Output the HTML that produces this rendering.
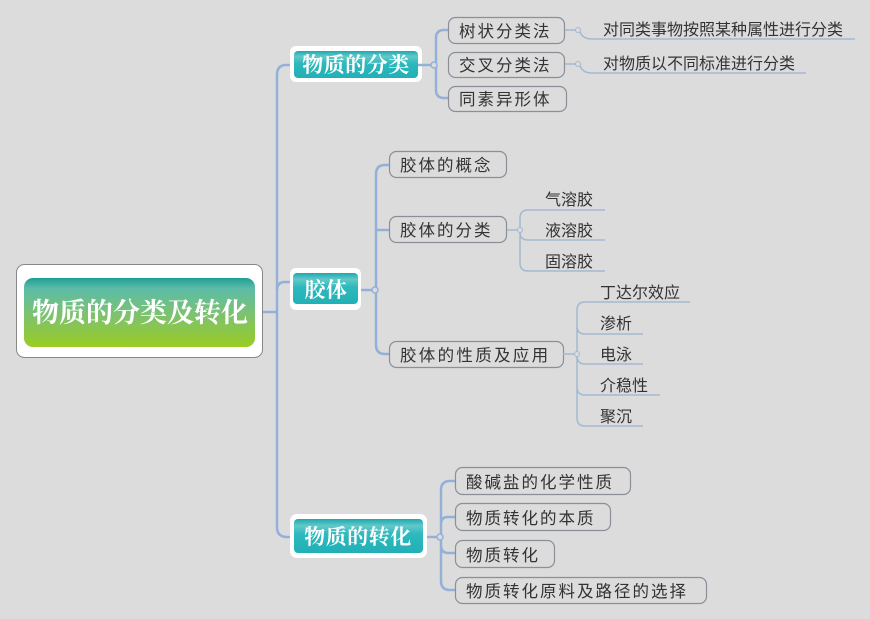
<!DOCTYPE html>
<html><head><meta charset="utf-8"><style>
html,body{margin:0;padding:0;background:#dcdcdc;}
svg{display:block;}
text{font-family:"Liberation Sans","Noto Sans CJK SC",sans-serif;fill:#333;}
.b{fill:#dcdcdc;stroke:#8a8f98;stroke-width:1.2;}
.t16{font-size:16.5px;letter-spacing:2px;}
.t15{font-size:16px;}
.ln{fill:none;stroke:#93b1d8;stroke-width:2.5;}
.ul{fill:none;stroke:#a4b8d2;stroke-width:1.5;}
.mt{font-family:"Liberation Serif","Noto Serif CJK SC",serif;font-weight:bold;fill:#fff;font-size:21px;letter-spacing:0.5px;}
</style></head><body>
<svg width="870" height="619" viewBox="0 0 870 619">
<defs>
<linearGradient id="rg" x1="0" y1="0" x2="0" y2="1">
<stop offset="0" stop-color="#1f9e94"/><stop offset="0.15" stop-color="#5cbca8"/><stop offset="0.55" stop-color="#7ec26c"/><stop offset="1" stop-color="#9acc22"/>
</linearGradient>
<linearGradient id="tg" x1="0" y1="0" x2="0" y2="1">
<stop offset="0" stop-color="#1aa9b0"/><stop offset="0.2" stop-color="#63c8c8"/><stop offset="0.45" stop-color="#2db9bd"/><stop offset="1" stop-color="#22b0b6"/>
</linearGradient>
</defs>
<path class="ln" d="M290 65 H286 Q277 65 277 75 V527 Q277 537 287 537 H292"/>
<path class="ln" d="M262 312 H277"/>
<path class="ln" d="M277 290 Q277 282 285 282 H292"/>
<rect x="16.5" y="264.5" width="246" height="93" rx="8" fill="#fff" stroke="#888"/>
<rect x="24" y="278" width="231" height="69" rx="9" fill="url(#rg)"/>
<text x="140" y="322" text-anchor="middle" class="mt" style="font-size:27px;letter-spacing:0">物质的分类及转化</text>
<rect x="290" y="46" width="132" height="36" rx="6" fill="#fff"/>
<rect x="294" y="51" width="124" height="27" rx="4" fill="url(#tg)"/>
<text x="356" y="72" text-anchor="middle" class="mt">物质的分类</text>
<rect x="290" y="268" width="71" height="42" rx="6" fill="#fff"/>
<rect x="293" y="273" width="65" height="31" rx="4" fill="url(#tg)"/>
<text x="326" y="297" text-anchor="middle" class="mt">胶体</text>
<rect x="290" y="514" width="137" height="44" rx="7" fill="#fff"/>
<rect x="294" y="519" width="129" height="34" rx="4" fill="url(#tg)"/>
<text x="358" y="544" text-anchor="middle" class="mt">物质的转化</text>
<path class="ln" d="M418 65 H436 M448 30 H444 Q436 30 436 38 V90 Q436 98 444 98 H448"/>
<circle cx="434" cy="65" r="3" fill="#dcdcdc" stroke="#93b1d8" stroke-width="1.5"/>
<rect class="b" x="448.5" y="17.5" width="116" height="26" rx="7"/><text class="t16" x="459" y="37">树状分类法</text>
<rect class="b" x="448.5" y="52.5" width="116" height="25" rx="7"/><text class="t16" x="459" y="71">交叉分类法</text>
<rect class="b" x="448.5" y="86.5" width="118" height="25" rx="7"/><text class="t16" x="459" y="105">同素异形体</text>
<path class="ul" d="M565 30 H576 Q580 30 581 34 Q584 39 592 39 H855"/>
<circle cx="578" cy="30" r="2.5" fill="#dcdcdc" stroke="#a4b8d2"/>
<text class="t15" x="603" y="35">对同类事物按照某种属性进行分类</text>
<path class="ul" d="M565 64 H576 Q580 64 581 68 Q584 73 592 73 H806"/>
<circle cx="578" cy="64" r="2.5" fill="#dcdcdc" stroke="#a4b8d2"/>
<text class="t15" x="603" y="69">对物质以不同标准进行分类</text>
<path class="ln" d="M361 290 H376 M389 165 H385 Q376 165 376 174 V345 Q376 354 385 354 H389 M376 230 H389"/>
<circle cx="375" cy="290" r="3" fill="#dcdcdc" stroke="#93b1d8" stroke-width="1.5"/>
<rect class="b" x="389.5" y="151.5" width="117" height="26" rx="7"/><text class="t16" x="400" y="171">胶体的概念</text>
<rect class="b" x="389.5" y="216.5" width="117" height="26" rx="7"/><text class="t16" x="400" y="236">胶体的分类</text>
<rect class="b" x="389.5" y="341.5" width="174" height="26" rx="7"/><text class="t16" x="400" y="361" style="letter-spacing:2.3px">胶体的性质及应用</text>
<path class="ul" d="M507 230 H520 M605 210 H528 Q520 210 520 218 V263 Q520 271 528 271 H605 M520 232 Q520 240 528 240 H605"/>
<circle cx="520" cy="230" r="2.5" fill="#dcdcdc" stroke="#a4b8d2"/>
<text class="t15" x="545" y="205">气溶胶</text>
<text class="t15" x="545" y="236">液溶胶</text>
<text class="t15" x="545" y="267">固溶胶</text>
<path class="ul" d="M563 354 H577 M690 302 H585 Q577 302 577 310 V418 Q577 426 585 426 H643 M577 326 Q577 334 585 334 H643 M577 356 Q577 364 585 364 H643 M577 387 Q577 395 585 395 H660"/>
<circle cx="577" cy="354" r="2.5" fill="#dcdcdc" stroke="#a4b8d2"/>
<text class="t15" x="600" y="298">丁达尔效应</text>
<text class="t15" x="600" y="329">渗析</text>
<text class="t15" x="600" y="360">电泳</text>
<text class="t15" x="600" y="391">介稳性</text>
<text class="t15" x="600" y="422">聚沉</text>
<path class="ln" d="M427 537 H441 M455 481 H450 Q441 481 441 490 V581 Q441 590 450 590 H455 M441 524 Q441 517 448 517 H455 M441 545 Q441 553 448 553 H455"/>
<circle cx="440" cy="537" r="3" fill="#dcdcdc" stroke="#93b1d8" stroke-width="1.5"/>
<rect class="b" x="455.5" y="467.5" width="175" height="27" rx="7"/><text class="t16" x="466" y="488">酸碱盐的化学性质</text>
<rect class="b" x="455.5" y="503.5" width="155" height="27" rx="7"/><text class="t16" x="466" y="524">物质转化的本质</text>
<rect class="b" x="455.5" y="540.5" width="99" height="27" rx="7"/><text class="t16" x="466" y="561">物质转化</text>
<rect class="b" x="455.5" y="577.5" width="251" height="26" rx="7"/><text class="t16" x="466" y="597">物质转化原料及路径的选择</text>
</svg>
</body></html>
